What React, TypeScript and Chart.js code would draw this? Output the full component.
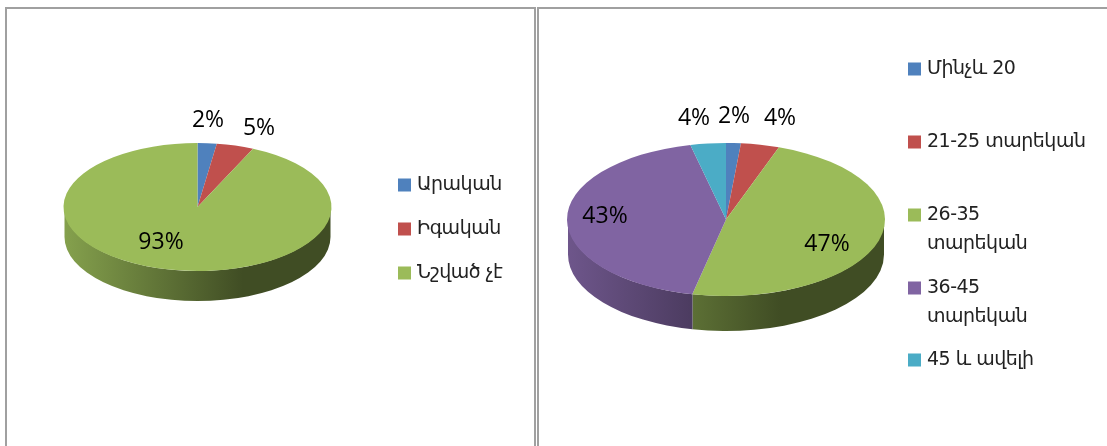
import React, { useEffect, useRef } from "react";
import { Chart, registerables } from "chart.js";

Chart.register(...registerables);

const leftCategories = ["Արական", "Իգական", "Նշված չէ"];
const leftValues = [2.3, 4.5, 93.2];
const leftPercentLabels = ["2%", "5%", "93%"];
const leftColors = ["#4F81BD", "#C0504D", "#9BBB59"];

const rightCategories = ["Մինչև 20", "21-25 տարեկան", "26-35\nտարեկան", "36-45\nտարեկան", "45 և ավելի"];
const rightValues = [1.5, 3.9, 48, 43, 3.6];
const rightPercentLabels = ["2%", "4%", "47%", "43%", "4%"];
const rightColors = ["#4F81BD", "#C0504D", "#9BBB59", "#8064A2", "#4BACC6"];

const PCT_FONT = '400 23px "Open Sans", "DejaVu Sans", sans-serif';
const LEGEND_FONT = '400 19px "DejaVu Sans", sans-serif';

type Cfg = {
  left: number; width: number; cx: number; cy: number; rx: number; ry: number; depth: number;
  labels: string[]; values: number[]; colors: string[]; pct: string[];
  pctPos: [number, number][]; swatchX: number; textX: number; legendY: number[]; lineGap: number;
};

function shade(hex: string, m: number) {
  const n = parseInt(hex.slice(1), 16);
  const f = (v: number) => Math.round(v * m);
  return `rgb(${f((n >> 16) & 255)},${f((n >> 8) & 255)},${f(n & 255)})`;
}

function Pie3D({ cfg }: { cfg: Cfg }) {
  const ref = useRef<HTMLCanvasElement>(null);
  useEffect(() => {
    const H = 446;
    const ox = cfg.left;
    const cx = cfg.cx - ox;
    const { cy, rx, ry, depth } = cfg;
    const plugin = {
      id: "pie3d",
      beforeDatasetsDraw(chart: any) {
        const ctx = chart.ctx as CanvasRenderingContext2D;
        chart.getDatasetMeta(0).data.forEach((el: any, i: number) => {
          const a = Math.max(el.startAngle, 0);
          const b = Math.min(el.endAngle, Math.PI);
          if (b <= a) return;
          const g = ctx.createLinearGradient(cx - rx, 0, cx + rx, 0);
          g.addColorStop(0, shade(cfg.colors[i], 0.86));
          g.addColorStop(0.67, shade(cfg.colors[i], 0.41));
          g.addColorStop(1, shade(cfg.colors[i], 0.41));
          ctx.save();
          ctx.beginPath();
          ctx.ellipse(cx, cy, rx - 1, ry, 0, a, b);
          ctx.ellipse(cx, cy + depth, rx - 1, ry, 0, b, a, true);
          ctx.closePath();
          ctx.fillStyle = g;
          ctx.fill();
          ctx.restore();
        });
        ctx.save();
        ctx.translate(cx, cy);
        ctx.scale(1, ry / rx);
        ctx.translate(-cx, -cy);
      },
      afterDatasetsDraw(chart: any) {
        const ctx = chart.ctx as CanvasRenderingContext2D;
        ctx.restore();
        ctx.save();
        ctx.fillStyle = "#000";
        ctx.font = PCT_FONT;
        ctx.textAlign = "center";
        ctx.textBaseline = "middle";
        cfg.pct.forEach((t, i) => ctx.fillText(t, cfg.pctPos[i][0] - ox, cfg.pctPos[i][1]));
        ctx.font = LEGEND_FONT;
        ctx.textAlign = "left";
        (ctx as any).letterSpacing = "-0.5px";
        cfg.labels.forEach((t, i) => {
          const y = cfg.legendY[i];
          ctx.fillStyle = cfg.colors[i];
          ctx.fillRect(cfg.swatchX - ox, y - 6.5, 13, 13);
          ctx.fillStyle = "#222";
          t.split("\n").forEach((ln, j) => ctx.fillText(ln, cfg.textX - ox, y + j * cfg.lineGap));
        });
        ctx.restore();
      },
    };
    const chart = new Chart(ref.current!, {
      type: "pie",
      data: {
        labels: cfg.labels,
        datasets: [{ data: cfg.values, backgroundColor: cfg.colors, borderWidth: 0 }],
      },
      options: {
        animation: false,
        responsive: false,
        layout: {
          padding: { left: cx - rx, right: cfg.width - cx - rx, top: cy - rx, bottom: H - cy - rx },
        },
        plugins: { legend: { display: false }, tooltip: { enabled: false } },
      },
      plugins: [plugin],
    } as any);
    return () => chart.destroy();
  }, [cfg]);
  return (
    <canvas
      ref={ref}
      width={cfg.width}
      height={446}
      style={{ position: "absolute", left: cfg.left, top: 0, width: cfg.width, height: 446 }}
    />
  );
}

const leftCfg: Cfg = {
  left: 0, width: 535, cx: 197.5, cy: 207, rx: 134, ry: 64, depth: 30,
  labels: leftCategories, values: leftValues, colors: leftColors, pct: leftPercentLabels,
  pctPos: [[208, 120], [259, 128], [161, 242]],
  swatchX: 398, textX: 417, legendY: [185, 229, 273], lineGap: 29,
};
const rightCfg: Cfg = {
  left: 536, width: 571, cx: 726, cy: 219.5, rx: 159, ry: 76.5, depth: 35,
  labels: rightCategories, values: rightValues, colors: rightColors, pct: rightPercentLabels,
  pctPos: [[734, 116], [780, 118], [827, 244], [605, 216], [694, 118]],
  swatchX: 908, textX: 927, legendY: [69, 142, 215, 288, 360], lineGap: 29,
};

export default function App() {
  return (
    <div style={{ position: "absolute", left: 0, top: 0, width: 1107, height: 446, overflow: "hidden", background: "#fff" }}>
      <Pie3D cfg={leftCfg} />
      <Pie3D cfg={rightCfg} />
      <div style={{ position: "absolute", left: 5, top: 7, width: 527, height: 460, border: "2px solid #a0a0a0" }} />
      <div style={{ position: "absolute", left: 537, top: 7, width: 600, height: 460, border: "2px solid #a0a0a0" }} />
    </div>
  );
}
